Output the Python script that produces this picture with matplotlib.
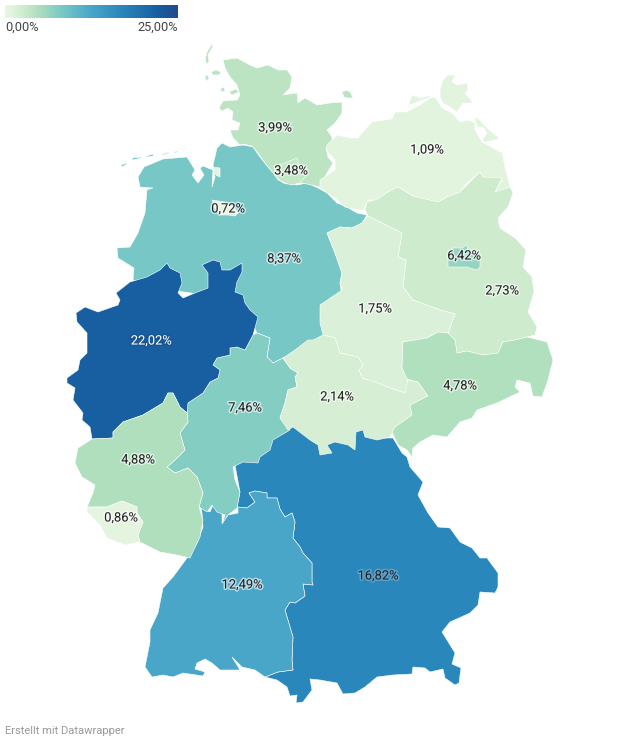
import matplotlib
matplotlib.use('Agg')
import matplotlib.pyplot as plt
import matplotlib.patheffects as pe
from matplotlib.colors import LinearSegmentedColormap, Normalize
from matplotlib.patches import Polygon
import numpy as np

plt.rcParams['font.family'] = ['Roboto', 'DejaVu Sans']

# share per state
states = ['Bayern', 'Niedersachsen', 'Baden-Württemberg', 'Hessen', 'Nordrhein-Westfalen',
          'Rheinland-Pfalz', 'Saarland', 'Schleswig-Holstein', 'Hamburg', 'Bremen',
          'Mecklenburg-Vorpommern', 'Brandenburg', 'Berlin', 'Sachsen-Anhalt', 'Thüringen', 'Sachsen']
shares = [16.82, 8.37, 12.49, 7.46, 22.02, 4.88, 0.86, 3.99, 3.48, 0.72, 1.09, 2.73, 6.42, 1.75, 2.14, 4.78]
labels = ['16,82%', '8,37%', '12,49%', '7,46%', '22,02%', '4,88%', '0,86%', '3,99%', '3,48%', '0,72%',
          '1,09%', '2,73%', '6,42%', '1,75%', '2,14%', '4,78%']
label_xy = [(378, 576), (284, 259), (242, 585), (245, 408), (151, 341), (138, 460), (121, 518), (275, 128),
            (291, 171), (228, 209), (427, 150), (502, 291), (464, 256), (375, 309), (337, 397), (460, 386)]

# colour scale of the legend, 0 to 25
scale_min, scale_max = 0, 25
scale_stops = [0, 1.09, 2.73, 4.8, 7.46, 8.37, 12.49, 16.82, 22.02, 25]
scale_colors = ['#e9f7e2', '#e2f3de', '#cdebcc', '#afdfbd', '#84cdc3', '#76c7c7', '#4aa6c8', '#2a87bb', '#175fa1', '#234a8c']

# outlines in picture pixels, a map has nothing else to be drawn from
outlines = {
 'Bayern': [[(235, 465), (240, 492), (237, 507), (247, 508), (255, 502), (249, 493), (255, 491), (267, 493), (267, 498), (277, 498),
   (280, 509), (285, 517), (292, 513), (295, 522), (293, 538), (300, 547), (303, 553), (312, 563), (312, 582), (313, 585),
   (303, 584), (305, 596), (295, 603), (290, 602), (285, 610), (290, 627), (293, 637), (292, 660), (293, 670), (278, 672),
   (265, 677), (277, 680), (287, 687), (290, 696), (297, 695), (296, 703), (303, 702), (312, 690), (310, 679), (320, 680),
   (337, 683), (343, 694), (355, 693), (365, 687), (377, 677), (393, 675), (412, 674), (413, 667), (425, 668), (430, 672),
   (443, 669), (445, 678), (455, 685), (459, 683), (461, 668), (452, 664), (455, 653), (447, 640), (442, 632), (450, 622),
   (470, 613), (478, 605), (480, 592), (495, 593), (498, 587), (498, 573), (487, 558), (480, 558), (472, 548), (460, 542),
   (450, 528), (438, 527), (428, 513), (418, 495), (423, 482), (410, 467), (407, 457), (402, 453), (393, 438), (377, 438),
   (360, 420), (300, 420), (280, 425), (262, 445), (250, 455)]],
 'Niedersachsen': [[(217, 148), (222, 143), (230, 147), (243, 145), (253, 147), (260, 157), (268, 167), (277, 177), (283, 183), (297, 185),
   (307, 183), (318, 188), (327, 193), (337, 203), (347, 207), (357, 213), (367, 215), (362, 223), (352, 228), (340, 227),
   (327, 233), (335, 253), (342, 273), (340, 283), (342, 297), (325, 310), (325, 335), (310, 345), (283, 358), (273, 363),
   (267, 357), (270, 338), (257, 333), (240, 300), (170, 290), (133, 280), (134, 268), (118, 258), (117, 248), (130, 247),
   (138, 233), (145, 213), (147, 190), (153, 188), (140, 187), (138, 177), (144, 167), (163, 159), (187, 157), (195, 170),
   (192, 175), (198, 183), (204, 175), (200, 168), (203, 166), (213, 170), (212, 187), (215, 177), (213, 165)],
  [(121, 165), (127, 163), (127, 164), (122, 167)], [(132, 158), (142, 157), (141, 158), (133, 160)],
  [(146, 156), (154, 154), (153, 156), (147, 157)], [(162, 154), (170, 152), (169, 153), (163, 155)],
  [(174, 152), (178, 151), (178, 152), (175, 153)]],
 'Baden-Württemberg': [[(201, 508), (210, 512), (213, 505), (222, 513), (222, 523), (228, 515), (238, 513), (238, 507), (247, 508), (255, 502),
   (249, 493), (255, 491), (267, 493), (267, 498), (277, 498), (280, 509), (285, 517), (292, 513), (295, 522), (293, 538),
   (300, 547), (303, 553), (312, 563), (312, 582), (313, 585), (303, 584), (305, 596), (295, 603), (290, 602), (285, 610),
   (290, 627), (293, 637), (292, 660), (293, 670), (278, 672), (265, 677), (255, 670), (242, 667), (232, 657), (240, 670),
   (220, 670), (212, 663), (205, 659), (197, 663), (195, 669), (205, 672), (203, 676), (183, 673), (173, 677), (163, 675),
   (152, 677), (145, 667), (150, 642), (150, 630), (158, 613), (163, 588), (173, 577), (187, 558), (197, 543), (203, 527),
   (202, 513)]],
 'Hessen': [[(257, 333), (270, 338), (267, 357), (273, 363), (283, 358), (290, 368), (298, 373), (295, 377), (297, 387), (288, 390),
   (285, 403), (280, 418), (290, 430), (273, 440), (270, 450), (260, 457), (258, 463), (243, 462), (233, 467), (235, 480),
   (240, 492), (237, 508), (228, 515), (222, 524), (225, 515), (217, 512), (212, 505), (207, 512), (199, 507), (203, 493),
   (197, 477), (188, 468), (175, 473), (167, 467), (175, 460), (185, 450), (180, 433), (188, 422), (187, 413), (188, 403),
   (203, 393), (210, 382), (218, 378), (220, 370), (213, 365), (217, 358), (230, 355), (230, 348), (237, 347), (245, 350),
   (253, 335)]],
 'Nordrhein-Westfalen': [[(167, 263), (170, 268), (180, 273), (182, 283), (178, 293), (183, 298), (195, 293), (208, 288), (208, 273), (202, 265),
   (213, 260), (220, 262), (222, 270), (230, 270), (242, 263), (242, 272), (237, 282), (235, 292), (243, 295), (245, 303),
   (250, 310), (258, 317), (253, 335), (245, 350), (237, 347), (230, 348), (230, 355), (217, 358), (213, 365), (220, 370),
   (218, 378), (210, 382), (203, 393), (188, 403), (187, 413), (180, 407), (173, 393), (168, 393), (163, 403), (143, 415),
   (123, 422), (113, 432), (113, 438), (92, 439), (90, 427), (82, 420), (83, 413), (73, 400), (75, 388), (67, 383),
   (67, 378), (78, 370), (80, 360), (87, 353), (87, 333), (77, 322), (76, 313), (85, 307), (98, 312), (118, 305),
   (120, 300), (116, 293), (130, 282), (147, 277), (160, 270)]],
 'Rheinland-Pfalz': [[(123, 422), (143, 415), (163, 403), (168, 393), (173, 393), (180, 407), (187, 413), (188, 422), (180, 433), (185, 450),
   (175, 460), (167, 467), (175, 473), (188, 468), (197, 477), (203, 493), (199, 507), (203, 520), (200, 537), (190, 558),
   (177, 555), (160, 552), (140, 542), (138, 535), (143, 522), (137, 513), (137, 507), (122, 501), (107, 507), (87, 507),
   (93, 493), (95, 485), (82, 477), (75, 463), (78, 448), (92, 439), (113, 438), (113, 432)]],
 'Saarland': [[(87, 507), (107, 507), (122, 501), (137, 507), (137, 513), (143, 522), (138, 535), (140, 542), (125, 545), (107, 538),
   (100, 525), (87, 512)]],
 'Schleswig-Holstein': [[(223, 60), (237, 58), (250, 65), (257, 68), (268, 65), (278, 70), (287, 70), (292, 77), (290, 88), (283, 95),
   (297, 93), (298, 103), (305, 98), (317, 105), (330, 103), (342, 102), (342, 113), (335, 123), (327, 130), (332, 137),
   (332, 142), (326, 148), (328, 157), (333, 163), (327, 173), (320, 187), (307, 184), (297, 183), (287, 184), (278, 180),
   (273, 173), (265, 163), (258, 153), (252, 146), (243, 144), (240, 145), (233, 138), (230, 130), (238, 130), (240, 123),
   (232, 120), (233, 112), (228, 108), (222, 111), (219, 108), (223, 101), (237, 100), (240, 95), (237, 85), (230, 77),
   (225, 68)],
  [(212, 44), (207, 52), (205, 60), (207, 64), (209, 62), (208, 55), (213, 46)],
  [(211, 72), (216, 70), (221, 72), (219, 75), (213, 75)], [(205, 76), (208, 75), (209, 79), (206, 81)],
  [(220, 89), (224, 87), (225, 91), (222, 92)], [(229, 92), (236, 89), (239, 92), (232, 95)],
  [(342, 92), (347, 90), (351, 93), (353, 98), (347, 98), (344, 97)]],
 'Hamburg': [[(274, 167), (285, 163), (292, 160), (297, 158), (299, 165), (307, 168), (307, 175), (300, 183), (292, 185), (285, 183),
   (278, 179)]],
 'Bremen': [[(212, 200), (225, 202), (234, 207), (238, 213), (235, 216), (228, 215), (220, 215), (215, 208)],
  [(213, 167), (220, 168), (220, 177), (216, 175)]],
 'Mecklenburg-Vorpommern': [[(327, 145), (337, 135), (350, 138), (358, 138), (363, 132), (372, 122), (392, 119), (395, 112), (406, 112), (420, 105),
   (430, 98), (435, 97), (442, 108), (452, 113), (460, 122), (468, 120), (475, 123), (475, 130), (482, 142), (488, 145),
   (500, 152), (502, 152), (505, 167), (510, 187), (502, 193), (495, 192), (502, 180), (490, 180), (483, 177), (480, 172),
   (467, 183), (460, 192), (447, 197), (438, 202), (427, 200), (413, 196), (398, 187), (388, 192), (378, 200), (368, 200),
   (363, 210), (357, 210), (345, 207), (335, 198), (320, 188), (320, 180), (335, 170), (335, 160), (326, 150)],
  [(407, 110), (412, 95), (420, 98), (433, 95), (428, 98), (417, 102), (410, 105), (406, 112)],
  [(440, 90), (443, 80), (448, 75), (455, 75), (452, 82), (457, 85), (467, 83), (468, 90), (465, 93), (473, 103),
   (463, 103), (457, 112), (450, 107), (443, 103), (440, 97)],
  [(475, 117), (480, 120), (487, 128), (499, 138), (495, 140), (485, 142), (482, 140), (487, 133), (483, 127), (478, 127),
   (475, 122)]],
 'Brandenburg': [[(367, 202), (378, 199), (388, 192), (398, 187), (413, 196), (438, 202), (447, 197), (460, 192), (480, 172), (483, 177),
   (502, 178), (495, 192), (510, 187), (513, 193), (508, 207), (498, 218), (500, 228), (515, 238), (526, 250), (523, 267),
   (532, 277), (534, 292), (528, 312), (537, 327), (535, 335), (527, 337), (515, 340), (503, 342), (498, 353), (483, 355),
   (467, 351), (457, 353), (455, 340), (448, 333), (455, 314), (440, 310), (427, 305), (413, 300), (403, 287), (406, 260),
   (398, 257), (402, 233), (390, 227), (380, 222), (368, 216), (365, 210)]],
 'Berlin': [[(448, 267), (448, 258), (453, 248), (462, 248), (467, 245), (468, 252), (480, 253), (480, 267), (477, 270), (467, 267),
   (453, 267)]],
 'Sachsen-Anhalt': [[(327, 233), (340, 227), (352, 228), (362, 223), (368, 216), (380, 222), (390, 227), (402, 233), (398, 257), (406, 260),
   (403, 287), (413, 300), (427, 305), (440, 310), (455, 314), (448, 333), (438, 332), (427, 338), (403, 342), (402, 368),
   (407, 379), (408, 388), (405, 393), (387, 387), (378, 383), (362, 378), (359, 370), (363, 365), (358, 357), (340, 353),
   (335, 338), (323, 335), (320, 323), (320, 305), (342, 290), (340, 283), (342, 273), (335, 253)]],
 'Thüringen': [[(283, 358), (295, 350), (308, 340), (313, 340), (323, 335), (335, 338), (340, 353), (358, 357), (363, 365), (359, 370),
   (362, 378), (378, 383), (387, 387), (405, 393), (408, 380), (418, 382), (428, 396), (410, 405), (412, 415), (395, 427),
   (390, 437), (377, 440), (365, 437), (363, 430), (356, 432), (355, 450), (348, 445), (335, 442), (327, 445), (332, 453),
   (320, 455), (318, 445), (310, 440), (293, 427), (288, 430), (280, 418), (285, 403), (288, 390), (297, 387), (295, 377),
   (298, 373), (290, 368)]],
 'Sachsen': [[(403, 342), (427, 338), (438, 332), (448, 333), (455, 340), (457, 353), (467, 351), (483, 355), (498, 353), (503, 342),
   (515, 340), (527, 337), (547, 342), (553, 360), (548, 380), (542, 397), (533, 396), (530, 383), (517, 380), (515, 387),
   (520, 392), (497, 403), (477, 410), (472, 418), (460, 422), (447, 437), (433, 435), (420, 442), (413, 448), (412, 457),
   (407, 450), (398, 445), (392, 432), (395, 427), (412, 415), (410, 405), (428, 396), (418, 382), (407, 379), (402, 368)]],
}

fig = plt.figure(figsize=(6.2, 7.43), dpi=100)
ax = fig.add_axes([0, 0, 1, 1])
ax.set_xlim(0, 620)
ax.set_ylim(743, 0)
ax.axis('off')

norm = Normalize(scale_min, scale_max)
cmap = LinearSegmentedColormap.from_list('shares', [(norm(v), c) for v, c in zip(scale_stops, scale_colors)])

# order of the dict matters, the later state sets the shared border
for name in outlines:
    value = shares[states.index(name)]
    for part in outlines[name]:
        ax.add_patch(Polygon(part, closed=True, facecolor=cmap(norm(value)), edgecolor='#ffffff',
                             linewidth=0.4, joinstyle='round', zorder=2))

for i in range(len(labels)):
    x, y = label_xy[i]
    if shares[i] > 20:
        color, halo = '#ffffff', '#1b4f86'
    elif shares[i] > 15:
        color, halo = '#222222', '#7fb3d5'
    else:
        color, halo = '#222222', '#ffffff'
    t = ax.text(x, y, labels[i], ha='center', va='center', fontsize=9.3, color=color, zorder=5)
    t.set_path_effects([pe.withStroke(linewidth=2.2, foreground=halo, alpha=0.6)])

# legend
gradient = np.linspace(0, 1, 256).reshape(1, -1)
ax.imshow(gradient, cmap=cmap, extent=(5, 178, 18, 5), aspect='auto', zorder=2)
ax.set_xlim(0, 620)
ax.set_ylim(743, 0)
ax.text(5, 27, '0,00%', ha='left', va='center', fontsize=9.2, color='#444444')
ax.text(178, 27, '25,00%', ha='right', va='center', fontsize=9.2, color='#444444')
ax.text(5, 731, 'Erstellt mit Datawrapper', ha='left', va='center', fontsize=8, color='#999999')

fig.savefig('out.png', dpi=100)
